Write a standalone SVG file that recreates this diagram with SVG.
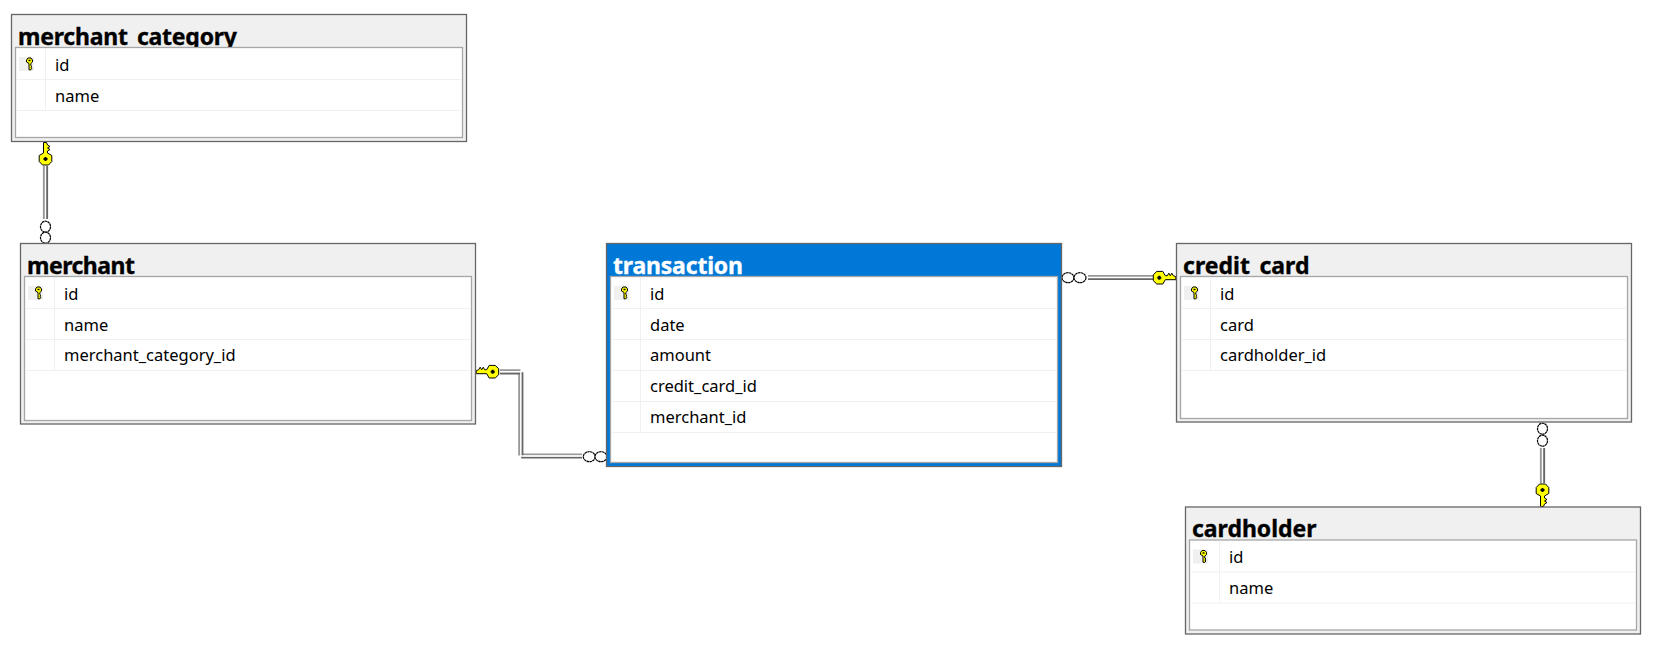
<svg xmlns="http://www.w3.org/2000/svg" width="1659" height="648" viewBox="0 0 1659 648">
<style>
.outer{fill:#f0f0f0;stroke:#666;stroke-width:1.3}
.outer.sel{fill:#0078d7;stroke:#666}
.inner{fill:#fff;stroke:#a6a6a6;stroke-width:1.3}
.sep{stroke:#f0f0f0;stroke-width:1;fill:none}
.keybg{fill:#f0f0f0}
.title{font:bold 23px "Noto Sans","Open Sans",sans-serif;fill:#000;stroke:#000;stroke-width:.35}
.title.sel{fill:#fff;stroke:#fff}
.cell{font:16.500px "Noto Sans","Open Sans",sans-serif;fill:#000}
.dk{fill:none;stroke:#666;stroke-width:2.200}
.lt{fill:none;stroke:#999;stroke-width:2.200}
.wh{fill:none;stroke:#fff;stroke-width:1.400}
.o{fill:#fff;stroke:#000;stroke-width:1.200;stroke-dasharray:2.500 .4}
.k{fill:#ffff00;stroke:#000;stroke-width:1}
</style>
<defs>
<g id="smallkey"><path class="k" d="M-3 -3 L-1.500 -5 H1.500 L3 -3 V-1 L1.300 .5 V2.500 L2.500 3.500 L1.300 4.500 L2.500 5.500 L1.300 6.800 H-.5 V.5 L-3 -1 Z"/><rect x="-1" y="-3.200" width="2" height="1.400" fill="#000"/></g>
<g id="bigkey"><path class="k" d="M-2 -6 L-6.300 -3.500 V2.500 L-3 6 H3 L6.300 2.500 V-3.500 L2 -6 V-8 L4.500 -9.500 L2 -11 L4.500 -12.500 L2 -14 L1 -16.500 H-2 Z"/><path d="M-2 0H2M0 -2V2" stroke="#000" stroke-width="2"/></g>
</defs>

<g id="connectors">
<g id="fk-merchant-merchant_category">
<path class="lt" d="M44 166V219"/><path class="dk" d="M47 166V219"/><path class="wh" d="M45.500 166V219"/>
<ellipse class="o" cx="45.500" cy="226.700" rx="5" ry="5.500"/><ellipse class="o" cx="45.500" cy="237.700" rx="5" ry="5.500"/>
<use href="#bigkey" x="45.500" y="159"/>
</g>
<g id="fk-transaction-merchant">
<path class="lt" d="M500 370.300H519.300V454.500H582"/><path class="dk" d="M500 373.300H522.300V457.500H582"/><path class="wh" d="M500 371.800H520.800V456H582"/>
<ellipse class="o" cx="589.300" cy="456.700" rx="6" ry="5"/><ellipse class="o" cx="601" cy="456.700" rx="6" ry="5"/>
<use href="#bigkey" transform="translate(492.700 371.700) rotate(-90)"/>
</g>
<g id="fk-transaction-credit_card">
<path class="lt" d="M1088 276H1153"/><path class="dk" d="M1088 279H1153"/><path class="wh" d="M1088 277.500H1153"/>
<ellipse class="o" cx="1068" cy="277.700" rx="6" ry="5"/><ellipse class="o" cx="1080" cy="277.700" rx="6" ry="5"/>
<use href="#bigkey" transform="translate(1159.300 277.700) scale(-1 1) rotate(-90)"/>
</g>
<g id="fk-credit_card-cardholder">
<path class="lt" d="M1541 448V483"/><path class="dk" d="M1544 448V483"/><path class="wh" d="M1542.500 448V483"/>
<ellipse class="o" cx="1542.500" cy="428.700" rx="5" ry="5.500"/><ellipse class="o" cx="1542.500" cy="440.700" rx="5" ry="5.500"/>
<use href="#bigkey" transform="translate(1542.500 490) scale(1 -1)"/>
</g>
</g>

<g id="merchant_category">
<rect class="outer" x="11.500" y="14.500" width="455" height="127"/>
<text class="title" x="18" y="45" textLength="219">merchant_category</text>
<rect class="inner" x="15.500" y="47.500" width="447" height="90"/>
<path class="sep" d="M17 79.500H461M17 110.500H461M45.500 49V110"/>
<rect class="keybg" x="19" y="57" width="15" height="14"/>
<use href="#smallkey" x="29.500" y="63"/>
<text class="cell" x="55" y="70.500">id</text>
<text class="cell" x="55" y="101.500">name</text>
</g>

<g id="merchant">
<rect class="outer" x="20.500" y="243.500" width="455" height="180.500"/>
<text class="title" x="27" y="273.500" textLength="108">merchant</text>
<rect class="inner" x="24.500" y="276.500" width="447" height="144"/>
<path class="sep" d="M26 308.500H470M26 339.500H470M26 370.500H470M54.500 278V370"/>
<rect class="keybg" x="28" y="286" width="15" height="14"/>
<use href="#smallkey" x="38.500" y="292"/>
<text class="cell" x="64" y="299.500">id</text>
<text class="cell" x="64" y="330.500">name</text>
<text class="cell" x="64" y="361">merchant_category_id</text>
</g>

<g id="transaction">
<rect class="outer sel" x="606.500" y="243.500" width="455" height="223"/>
<text class="title sel" x="613" y="273.500" textLength="130">transaction</text>
<rect class="inner" x="610.500" y="276.500" width="447" height="186"/>
<path class="sep" d="M612 308.500H1056M612 339.500H1056M612 370.500H1056M612 401.500H1056M612 432.500H1056M640.500 278V432"/>
<rect class="keybg" x="614" y="286" width="15" height="14"/>
<use href="#smallkey" x="624.500" y="292"/>
<text class="cell" x="650" y="299.500">id</text>
<text class="cell" x="650" y="330.500">date</text>
<text class="cell" x="650" y="361">amount</text>
<text class="cell" x="650" y="392">credit_card_id</text>
<text class="cell" x="650" y="423">merchant_id</text>
</g>

<g id="credit_card">
<rect class="outer" x="1176.500" y="243.500" width="455" height="178.500"/>
<text class="title" x="1183" y="273.500" textLength="126.500">credit_card</text>
<rect class="inner" x="1180.500" y="276.500" width="447" height="142"/>
<path class="sep" d="M1182 308.500H1626M1182 339.500H1626M1182 370.500H1626M1210.500 278V370"/>
<rect class="keybg" x="1184" y="286" width="15" height="14"/>
<use href="#smallkey" x="1194.500" y="292"/>
<text class="cell" x="1220" y="299.500">id</text>
<text class="cell" x="1220" y="330.500">card</text>
<text class="cell" x="1220" y="361">cardholder_id</text>
</g>

<g id="cardholder">
<rect class="outer" x="1185.500" y="507" width="455" height="127"/>
<text class="title" x="1192" y="537" textLength="124.500">cardholder</text>
<rect class="inner" x="1189.500" y="540" width="447" height="90"/>
<path class="sep" d="M1191 572H1635M1191 603H1635M1219.500 541.500V603"/>
<rect class="keybg" x="1193" y="549.500" width="15" height="14"/>
<use href="#smallkey" x="1203.500" y="555.500"/>
<text class="cell" x="1229" y="563">id</text>
<text class="cell" x="1229" y="594">name</text>
</g>
</svg>
